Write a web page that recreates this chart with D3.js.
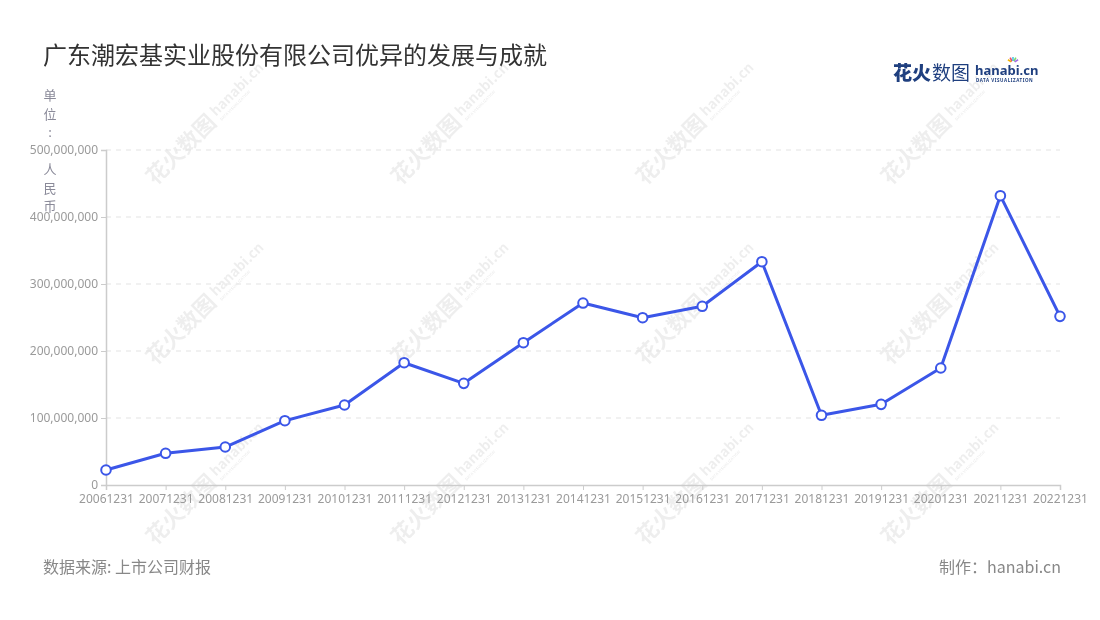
<!DOCTYPE html>
<html>
<head>
<meta charset="utf-8">
<script src="https://cdn.jsdelivr.net/npm/d3@7"></script>
<style>
  html, body { margin: 0; padding: 0; background: #fff; }
  svg { display: block; font-family: "Noto Sans CJK SC", "Noto Sans", sans-serif; }
</style>
</head>
<body>
<svg id="chart" width="1100" height="620"></svg>
<script>
const title = "广东潮宏基实业股份有限公司优异的发展与成就";
const unitLabel = "单位: 人民币";
const source = "数据来源: 上市公司财报";
const maker = "制作：hanabi.cn";
const categories = ["20061231","20071231","20081231","20091231","20101231","20111231","20121231","20131231","20141231","20151231","20161231","20171231","20181231","20191231","20201231","20211231","20221231"];
const values = [22400000, 47300000, 56700000, 96000000, 119400000, 182500000, 151700000, 212400000, 271600000, 249700000, 266700000, 333300000, 104000000, 120400000, 174600000, 431800000, 251700000];
const yTicks = [0, 100000000, 200000000, 300000000, 400000000, 500000000];

const svg = d3.select("#chart");
const margin = {left: 106, right: 40, top: 150, bottom: 135};
const W = 1100, H = 620;

// watermarks
const wmG = svg.append("g").attr("opacity", 0.07);
const wmCols = [185, 430, 675, 920];
const wmRows = [145, 325, 505];
wmRows.forEach(r => wmCols.forEach(c => {
  const g = wmG.append("g").attr("transform", `translate(${c},${r}) rotate(-45)`);
  g.append("text").attr("x", -50).attr("y", 8).attr("font-size", 22).attr("font-weight", 700).attr("fill", "#000").text("花火数图");
  g.append("text").attr("x", 42).attr("y", 2).attr("font-size", 14).attr("font-weight", 700).attr("fill", "#000").text("hanabi.cn");
  g.append("text").attr("x", 43).attr("y", 9).attr("font-size", 4).attr("font-weight", 700).attr("fill", "#000").text("DATA VISUALIZATION");
}));

const x = d3.scalePoint().domain(categories).range([margin.left, W - margin.right]);
const y = d3.scaleLinear().domain([0, 500000000]).range([H - margin.bottom, margin.top]);

// grid
svg.append("g").selectAll("line").data(yTicks.filter(d => d > 0)).join("line")
  .attr("x1", margin.left).attr("x2", W - margin.right)
  .attr("y1", d => y(d)).attr("y2", d => y(d))
  .attr("stroke", "#e3e3e3").attr("stroke-dasharray", "5,5").attr("stroke-width", 1);

// y axis
const yAxis = svg.append("g").attr("transform", `translate(${margin.left},0)`)
  .call(d3.axisLeft(y).tickValues(yTicks).tickFormat(d3.format(",")).tickSize(5).tickPadding(3));
yAxis.select(".domain").attr("stroke", "#cccccc").attr("stroke-width", 1.5);
yAxis.selectAll(".tick line").attr("stroke", "#cccccc");
yAxis.selectAll(".tick text").attr("fill", "#9a9a9a").attr("font-size", 12).attr("font-family", "Noto Sans, sans-serif");

// x axis
const xAxis = svg.append("g").attr("transform", `translate(0,${H - margin.bottom})`)
  .call(d3.axisBottom(x).tickSize(5).tickPadding(4));
xAxis.select(".domain").attr("stroke", "#cccccc").attr("stroke-width", 1.5);
xAxis.selectAll(".tick line").attr("stroke", "#cccccc");
xAxis.selectAll(".tick text").attr("fill", "#9a9a9a").attr("font-size", 12).attr("font-family", "Noto Sans, sans-serif");

// line
const line = d3.line().x((d, i) => x(categories[i])).y(d => y(d));
svg.append("path").datum(values).attr("d", line)
  .attr("fill", "none").attr("stroke", "#3b56e8").attr("stroke-width", 3).attr("stroke-linejoin", "round");
svg.append("g").selectAll("circle").data(values).join("circle")
  .attr("cx", (d, i) => x(categories[i])).attr("cy", d => y(d)).attr("r", 4.8)
  .attr("fill", "#fff").attr("stroke", "#3b56e8").attr("stroke-width", 2);

// title
svg.append("text").attr("x", 43).attr("y", 64).attr("font-size", 24).attr("fill", "#333").text(title);

// unit label vertical
const ul = svg.append("text").attr("font-size", 13).attr("fill", "#8a8a99").attr("text-anchor", "middle");
Array.from(unitLabel).forEach((ch, i) => {
  ul.append("tspan").attr("x", 50).attr("y", 100 + i * 18.5).text(ch);
});

// logo
const logo = svg.append("g");
logo.append("text").attr("x", 893).attr("y", 80).attr("font-size", 19).attr("font-weight", 900).attr("fill", "#1f3f7f").text("花火");
logo.append("text").attr("x", 932).attr("y", 80).attr("font-size", 19).attr("font-weight", 400).attr("fill", "#1f3f7f").text("数图");
logo.append("text").attr("x", 975).attr("y", 75).attr("font-size", 13).attr("font-weight", 700).attr("fill", "#1f3f7f").attr("font-family", "Noto Sans, sans-serif").text("hanabi.cn");
logo.append("text").attr("x", 976).attr("y", 82).attr("font-size", 4.5).attr("font-weight", 700).attr("fill", "#1f3f7f").attr("letter-spacing", 0.55).attr("font-family", "Noto Sans, sans-serif").text("DATA VISUALIZATION");
const sparkColors = ["#f4b400", "#e94b6b", "#4dc3e8", "#7bd96b", "#a66be8"];
sparkColors.forEach((c, i) => {
  const a = -Math.PI / 2 + (i - 2) * 0.5;
  logo.append("line").attr("x1", 1013 + Math.cos(a) * 2).attr("y1", 63 + Math.sin(a) * 2)
    .attr("x2", 1013 + Math.cos(a) * 6).attr("y2", 63 + Math.sin(a) * 6)
    .attr("stroke", c).attr("stroke-width", 1.6);
});

// footer
svg.append("text").attr("x", 43).attr("y", 573).attr("font-size", 16).attr("fill", "#888").text(source);
svg.append("text").attr("x", 1061).attr("y", 573).attr("font-size", 16).attr("fill", "#888").attr("text-anchor", "end").text(maker);
</script>
</body>
</html>
